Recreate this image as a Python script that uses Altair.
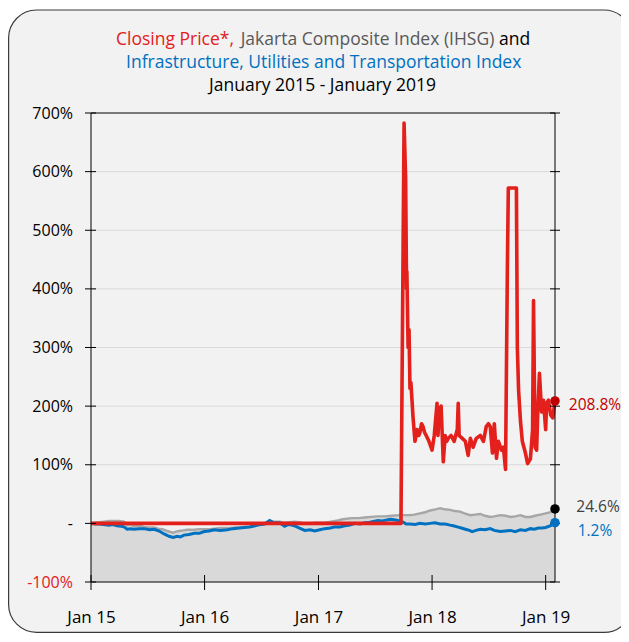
import altair as alt
import pandas as pd

# ---------------- data (percent change since Jan 2015) ----------------
red_dates = [
    "2015-01-01", "2017-09-23", "2017-10-03", "2017-10-08", "2017-10-11", "2017-10-12",
    "2017-10-16", "2017-10-19", "2017-10-22", "2017-10-25", "2017-11-01", "2017-11-07",
    "2017-11-14", "2017-11-19", "2017-11-23", "2017-11-28", "2017-12-03", "2017-12-08",
    "2017-12-13", "2017-12-22", "2018-01-01", "2018-01-08", "2018-01-17", "2018-01-20",
    "2018-01-24", "2018-01-30", "2018-02-06", "2018-02-12", "2018-02-17", "2018-02-22",
    "2018-03-03", "2018-03-13", "2018-03-23", "2018-03-26", "2018-03-29", "2018-04-08",
    "2018-04-18", "2018-04-27", "2018-05-04", "2018-05-13", "2018-05-23", "2018-06-05",
    "2018-06-15", "2018-06-24", "2018-07-01", "2018-07-07", "2018-07-14", "2018-07-20",
    "2018-07-27", "2018-08-02", "2018-08-12", "2018-08-18", "2018-08-25", "2018-08-31",
    "2018-09-03", "2018-09-29", "2018-10-02", "2018-10-06", "2018-10-12", "2018-10-18",
    "2018-10-28", "2018-11-04", "2018-11-13", "2018-11-20", "2018-11-23", "2018-11-28",
    "2018-12-03", "2018-12-06", "2018-12-12", "2018-12-19", "2018-12-25", "2019-01-01",
    "2019-01-04", "2019-01-10", "2019-01-17", "2019-01-24", "2019-01-31",
]
red_values = [
    0, 0, 683, 590, 400, 430,
    300, 330, 230, 240, 180, 140,
    160, 150, 155, 170, 165, 155,
    150, 140, 125, 150, 205, 150,
    195, 200, 105, 150, 140, 145,
    150, 140, 160, 205, 150, 145,
    140, 116, 145, 130, 145, 150,
    140, 165, 170, 165, 120, 170,
    111, 140, 125, 130, 92, 437,
    572, 572, 300, 227, 175, 140,
    120, 102, 110, 160, 380, 130,
    125, 180, 256, 190, 210, 160,
    205, 210, 185, 180, 208.8,
]

gray_dates = [
    "2015-01-01", "2015-01-15", "2015-01-27", "2015-02-12", "2015-02-28", "2015-03-15",
    "2015-04-01", "2015-04-17", "2015-04-27", "2015-05-08", "2015-05-19", "2015-06-05",
    "2015-06-20", "2015-07-08", "2015-07-23", "2015-08-05", "2015-08-18", "2015-09-03",
    "2015-09-22", "2015-10-01", "2015-10-11", "2015-10-25", "2015-11-06", "2015-11-20",
    "2015-12-15", "2016-01-01", "2016-01-18", "2016-02-01", "2016-02-20", "2016-03-21",
    "2016-04-10", "2016-05-08", "2016-05-25", "2016-06-09", "2016-06-25", "2016-07-12",
    "2016-07-28", "2016-08-10", "2016-08-29", "2016-09-14", "2016-09-30", "2016-10-16",
    "2016-11-01", "2016-11-18", "2016-12-05", "2016-12-20", "2017-01-21", "2017-02-10",
    "2017-03-04", "2017-03-20", "2017-04-18", "2017-05-10", "2017-05-30", "2017-06-20",
    "2017-07-11", "2017-08-01", "2017-08-25", "2017-09-20", "2017-10-22", "2017-11-05",
    "2017-11-23", "2017-12-10", "2017-12-26", "2018-01-12", "2018-01-27", "2018-02-10",
    "2018-02-28", "2018-03-15", "2018-04-01", "2018-04-15", "2018-05-04", "2018-05-20",
    "2018-06-05", "2018-06-20", "2018-07-07", "2018-07-20", "2018-08-08", "2018-08-25",
    "2018-09-10", "2018-09-25", "2018-10-12", "2018-10-28", "2018-11-13", "2018-11-28",
    "2018-12-15", "2019-01-01", "2019-01-17", "2019-01-31",
]
gray_values = [
    0, 1, 2, 3, 4, 4,
    4, 3, -3, -2, -5, -4,
    -6, -7, -7, -9, -10, -13,
    -16, -14, -13, -12, -11, -11,
    -10, -10, -10, -9, -8, -8,
    -7, -6, -6, -4, -2, 0,
    5, 3, 3, 1, 2, 3,
    2, -1, 0, 1, 1, 3,
    5, 7, 9, 9, 10, 11,
    12, 12, 13, 14, 14, 15,
    17, 19, 22, 24, 26, 24,
    23, 21, 20, 17, 14, 15,
    16, 13, 11, 12, 14, 13,
    11, 12, 14, 11, 11, 13,
    15, 17, 19, 24.6,
]

blue_dates = [
    "2015-01-01", "2015-01-15", "2015-01-27", "2015-02-10", "2015-02-28", "2015-03-12",
    "2015-03-25", "2015-04-08", "2015-04-17", "2015-04-27", "2015-05-08", "2015-05-19",
    "2015-06-05", "2015-06-20", "2015-07-08", "2015-07-23", "2015-08-08", "2015-08-24",
    "2015-09-09", "2015-09-22", "2015-10-05", "2015-10-15", "2015-10-27", "2015-11-12",
    "2015-11-29", "2015-12-15", "2015-12-31", "2016-01-15", "2016-02-01", "2016-02-20",
    "2016-03-14", "2016-04-01", "2016-04-22", "2016-05-08", "2016-05-24", "2016-06-05",
    "2016-06-19", "2016-07-01", "2016-07-12", "2016-07-28", "2016-08-10", "2016-08-29",
    "2016-09-14", "2016-09-25", "2016-10-07", "2016-10-20", "2016-11-01", "2016-11-18",
    "2016-12-05", "2016-12-20", "2017-01-05", "2017-01-21", "2017-02-08", "2017-02-22",
    "2017-03-10", "2017-03-27", "2017-04-12", "2017-04-28", "2017-05-15", "2017-05-30",
    "2017-06-15", "2017-07-11", "2017-07-25", "2017-08-19", "2017-09-01", "2017-09-13",
    "2017-09-30", "2017-10-10", "2017-10-22", "2017-11-08", "2017-11-23", "2017-12-10",
    "2017-12-26", "2018-01-10", "2018-01-27", "2018-02-12", "2018-02-28", "2018-03-10",
    "2018-03-23", "2018-04-05", "2018-04-18", "2018-05-01", "2018-05-10", "2018-05-22",
    "2018-06-05", "2018-06-20", "2018-07-07", "2018-07-20", "2018-08-08", "2018-08-25",
    "2018-09-10", "2018-09-25", "2018-10-12", "2018-10-28", "2018-11-13", "2018-11-25",
    "2018-12-09", "2018-12-20", "2019-01-01", "2019-01-17", "2019-01-31",
]
blue_values = [
    0, -1, -1, -2, -3, -2,
    -4, -5, -6, -10, -9, -10,
    -9, -9, -11, -10, -13, -18,
    -22, -24, -22, -23, -20, -19,
    -17, -17, -14, -13, -11, -12,
    -11, -9, -8, -7, -6, -5,
    -3, -2, -1, 5, 1, 1,
    -5, -2, -3, -5, -8, -12,
    -11, -13, -11, -9, -8, -6,
    -6, -4, -3, 0, -1, 1,
    2, 5, 4, 7, 6, 5,
    2, -1, -1, -2, 0, -1,
    0, 1, -1, -1, -3, -4,
    -6, -8, -10, -12, -14, -12,
    -10, -11, -9, -12, -14, -13,
    -12, -14, -11, -12, -9, -10,
    -8, -8, -7, -4, 1.2,
]

y_ticks = [-100, 0, 100, 200, 300, 400, 500, 600, 700]
grid_values = [100, 200, 300, 400, 500, 600]
x_tick_dates = ["2015-01-01", "2016-01-01", "2017-01-01", "2018-01-01", "2019-01-01"]
x_domain = ["2015-01-01", "2019-01-31"]
end_labels = ["208.8%", "24.6%", "1.2%"]
title_line1 = ["Closing Price*,", "Jakarta Composite Index (IHSG)", "and"]
title_line2 = "Infrastructure, Utilities and Transportation Index"
title_line3 = "January 2015 - January 2019"

# ---------------- styling ----------------
W, H = 464, 469
FONT = "Open Sans"
RED = "#e3201b"
DARKRED = "#c00000"
BLUE = "#0070c0"
GRAY_LINE = "#a6a6a6"
GRAY_FILL = "#d9d9d9"
TXT_GRAY = "#595959"
XAXIS_FS = 17
YAXIS_FS = 16
END_FS = 15.5
TITLE_FS = 17.5


def dt(s):
    t = pd.Timestamp(s)
    return alt.DateTime(year=t.year, month=t.month, date=t.day, utc=True)


xscale = alt.Scale(type="utc", domain=[dt(d) for d in x_domain])
yscale = alt.Scale(domain=[-100, 700], nice=False, zero=False)

xaxis = alt.Axis(
    values=[dt(d) for d in x_tick_dates], format="%b %y", title=None,
    labelFont=FONT, labelFontSize=XAXIS_FS, labelColor="black", labelFlush=False,
    ticks=False, domain=False, grid=False, labelPadding=27, zindex=1,
)
yaxis = alt.Axis(
    values=y_ticks, title=None,
    labelExpr="datum.value == 0 ? '-' : datum.value + '%'",
    labelColor=alt.condition("datum.value < 0", alt.value(RED), alt.value("black")),
    labelFont=FONT, labelFontSize=YAXIS_FS, ticks=False, domain=False, grid=False,
    labelPadding=18.5, zindex=1,
)

X = alt.X("date:T", scale=xscale, axis=xaxis)
Y = alt.Y("value:Q", scale=yscale, axis=yaxis)

red_df = pd.DataFrame({"date": red_dates, "value": red_values})
gray_df = pd.DataFrame({"date": gray_dates, "value": gray_values})
blue_df = pd.DataFrame({"date": blue_dates, "value": blue_values})
one = pd.DataFrame({"k": [0]})
ytick_df = pd.DataFrame({"value": y_ticks})
grid_df = pd.DataFrame({"value": grid_values})
xtick_df = pd.DataFrame({"date": x_tick_dates})

card = alt.Chart(one).mark_rect(
    fill="#f2f2f2", stroke="#3a3a3a", strokeWidth=1.2, cornerRadius=28
).encode(x=alt.value(-82.4), x2=alt.value(W + 77), y=alt.value(-103), y2=alt.value(H + 50.4))

grid = alt.Chart(grid_df).mark_rule(color=GRAY_FILL, strokeWidth=1).encode(
    y=Y, x=alt.value(0), x2=alt.value(W)
)

area = alt.Chart(gray_df).mark_area(color=GRAY_FILL, opacity=1).encode(
    x=X, y=Y, y2=alt.datum(-100)
)
gray_line = alt.Chart(gray_df).mark_line(color=GRAY_LINE, strokeWidth=2.4).encode(x=X, y=Y)
blue_line = alt.Chart(blue_df).mark_line(color=BLUE, strokeWidth=3).encode(x=X, y=Y)
red_line = alt.Chart(red_df).mark_line(
    color=RED, strokeWidth=3.6, strokeJoin="round"
).encode(x=X, y=Y)

frame = alt.Chart(one).mark_rect(fill="transparent", stroke="black", strokeWidth=1).encode(
    x=alt.value(0), x2=alt.value(W), y=alt.value(0), y2=alt.value(H)
)
lticks = alt.Chart(ytick_df).mark_rule(color="black", strokeWidth=1).encode(
    y=Y, x=alt.value(-6), x2=alt.value(5)
)
rticks = alt.Chart(ytick_df).mark_rule(color="black", strokeWidth=1).encode(
    y=Y, x=alt.value(W - 5), x2=alt.value(W + 5)
)
bticks = alt.Chart(xtick_df).mark_rule(color="black", strokeWidth=1).encode(
    x=X, y=alt.value(H - 7), y2=alt.value(H + 8)
)

red_end = pd.DataFrame({"date": [red_dates[-1]], "value": [red_values[-1]], "label": [end_labels[0]]})
gray_end = pd.DataFrame({"date": [gray_dates[-1]], "value": [gray_values[-1]], "label": [end_labels[1]]})
blue_end = pd.DataFrame({"date": [blue_dates[-1]], "value": [blue_values[-1]], "label": [end_labels[2]]})

dots = []
labels = []
for df, dcol, tcol, dx, dy in [
    (red_end, DARKRED, DARKRED, 40, 4),
    (gray_end, "black", "#404040", 43, -2),
    (blue_end, BLUE, BLUE, 40, 8),
]:
    dots.append(alt.Chart(df).mark_circle(size=90, color=dcol, opacity=1).encode(x=X, y=Y))
    labels.append(
        alt.Chart(df).mark_text(
            align="center", baseline="middle", dx=dx, dy=dy,
            font=FONT, fontSize=END_FS, color=tcol,
        ).encode(x=X, y=Y, text="label:N")
    )


def ttext(txt, x, y, color, align):
    return alt.Chart(one).mark_text(
        align=align, baseline="alphabetic", font=FONT, fontSize=TITLE_FS, color=color
    ).encode(x=alt.value(x), y=alt.value(y), text=alt.value(txt))


titles = [
    ttext(title_line1[0], 25, -68, RED, "left"),
    ttext(title_line1[1], 276.5, -68, TXT_GRAY, "center"),
    ttext(title_line1[2], 408, -68, "black", "left"),
    ttext(title_line2, 232.7, -45, BLUE, "center"),
    ttext(title_line3, 231.5, -22, "black", "center"),
]

chart = alt.layer(
    card, grid, area, gray_line, blue_line, red_line, frame, lticks, rticks, bticks,
    *dots, *labels, *titles,
).properties(
    width=W, height=H,
    autosize=alt.AutoSizeParams(type="none"),
    padding={"left": 83, "top": 105, "right": 66, "bottom": 52},
).configure_view(stroke="transparent").configure(background="white")

chart.save("out.html", embed_options={"renderer": "svg", "actions": False})
